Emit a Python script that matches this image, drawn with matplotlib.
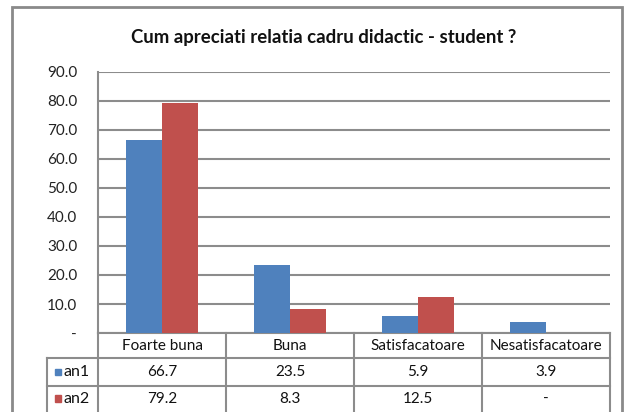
import numpy as np
import matplotlib
matplotlib.use("Agg")
import matplotlib.pyplot as plt
from matplotlib.transforms import blended_transform_factory
from matplotlib.patches import Rectangle

categories = ["Foarte buna", "Buna", "Satisfacatoare", "Nesatisfacatoare"]
series_names = ["an1", "an2"]
an1 = [66.7, 23.5, 5.9, 3.9]
an2 = [79.2, 8.3, 12.5, np.nan]
colors = ["#4F81BD", "#C0504D"]
yticks = np.arange(0, 91, 10)
ytick_labels = ["-"] + ["%.1f" % v for v in yticks[1:]]

plt.rcParams["font.family"] = ["Lato", "DejaVu Sans"]
grid_col = "#8c8c8c"

fig = plt.figure(figsize=(6.33, 4.12), dpi=100)
ax = fig.add_axes([98 / 633, 1 - 333 / 412, 512 / 633, 261 / 412])

x = np.arange(len(categories))
w = 0.285
ax.bar(x - w / 2, an1, w, color=colors[0], zorder=3)
ax.bar(x + w / 2, an2, w, color=colors[1], zorder=3)

ax.set_xlim(-0.5, len(categories) - 0.5)
ax.set_ylim(0, 90)
ax.set_yticks(yticks)
ax.set_yticklabels(ytick_labels, fontsize=11, color="#222222")
ax.set_xticks([])
ax.tick_params(axis="y", length=0, pad=15)
ax.yaxis.grid(True, color=grid_col, linewidth=1.5, zorder=0)
for side in ["top", "right"]:
    ax.spines[side].set_visible(False)
ax.spines["left"].set_color(grid_col)
ax.spines["left"].set_linewidth(1.5)
ax.spines["bottom"].set_color(grid_col)
ax.spines["bottom"].set_linewidth(1.5)

fig.text(324 / 633, 1 - 37 / 412, "Cum apreciati relatia cadru didactic - student ?",
         ha="center", va="center", fontsize=13.4, fontweight="bold", color="#111111")

# chart border
fig.patches.append(Rectangle((12 / 633, -0.05), 610 / 633, 1.05 - 7 / 412,
                             transform=fig.transFigure, fill=False,
                             edgecolor="#8a8a8a", linewidth=2))

# data table under the axis
tr = blended_transform_factory(ax.transData, fig.transFigure)
y_head = 1 - 333 / 412
y_r1 = 1 - 358 / 412
y_r2 = 1 - 386 / 412
y_end = -0.02
leg_left = -0.5 - 51 / 128
lkw = dict(color=grid_col, linewidth=1.5, transform=tr, clip_on=False)
for b in np.arange(len(categories) + 1) - 0.5:
    ax.plot([b, b], [y_head, y_end], **lkw)
ax.plot([leg_left, leg_left], [y_r1, y_end], **lkw)
ax.plot([leg_left, len(categories) - 0.5], [y_r1, y_r1], **lkw)
ax.plot([leg_left, len(categories) - 0.5], [y_r2, y_r2], **lkw)

fs = 11
for i, c in enumerate(categories):
    ax.text(i, (y_head + y_r1) / 2, c, ha="center", va="center",
            fontsize=fs, color="#111111", transform=tr)
rows = [an1, an2]
row_y = [(y_r1 + y_r2) / 2, (y_r2 + 0.0) / 2 + 0.001]
for name, vals, col, yy in zip(series_names, rows, colors, row_y):
    ax.add_patch(Rectangle((leg_left + 8 / 128, yy - 0.008), 6 / 128, 0.0155,
                           transform=tr, color=col, clip_on=False))
    ax.text(leg_left + 16 / 128, yy, name, ha="left", va="center",
            fontsize=11.5, color="#111111", transform=tr)
    for i, v in enumerate(vals):
        s = "-" if np.isnan(v) else "%.1f" % v
        ax.text(i, yy, s, ha="center", va="center",
                fontsize=fs, color="#111111", transform=tr)

fig.savefig("out.png", dpi=100, facecolor="white")
